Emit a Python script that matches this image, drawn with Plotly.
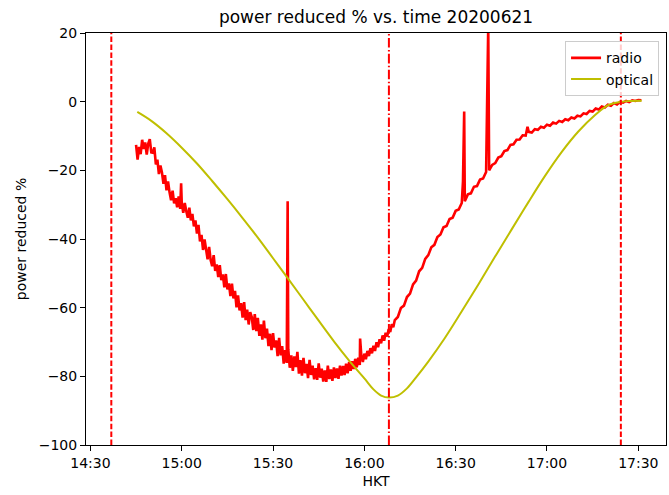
import pandas as pd
import plotly.graph_objects as go

DAY = "2020-06-21 14:30"

# radio, first part: two samples per minute from 14:45 to 16:09:30 (noisy)
radio_a_start_min = 15
radio_a_step_min = 0.5
radio_a_values = [
    -12.6, -16.9, -13.2, -15.3, -11.1, -13.8, -11.9, -15.4, -12.2, -10.9,
    -14.8, -14.9, -13.3, -18.3, -16.9, -21.1, -18.6, -20.6, -23.9, -21.4,
    -25.8, -23.2, -26.4, -28.7, -25.9, -29.6, -28.1, -30.8, -27.6, -31.2,
    -29.4, -32.4, -29.5, -31.9, -33.8, -30.9, -34.6, -32.7, -36.3, -34.6,
    -38.4, -35.9, -40.7, -38.8, -43.2, -40.1, -42.6, -45.9, -42.3, -46.1,
    -47.9, -44.7, -49.3, -47.4, -51.1, -47.6, -52.0, -50.3, -54.1, -50.2,
    -54.7, -52.9, -56.6, -53.0, -57.3, -55.1, -59.9, -56.4, -60.8, -58.7,
    -62.9, -58.4, -63.6, -60.6, -64.9, -61.3, -62.7, -66.5, -61.9, -66.8,
    -63.0, -68.2, -64.9, -69.3, -63.8, -68.9, -66.1, -71.2, -67.6, -72.4,
    -67.4, -71.6, -69.5, -74.1, -68.8, -73.9, -71.2, -76.3, -72.4, -76.1,
    -72.1, -77.5, -73.9, -78.4, -74.2, -77.3, -72.9, -79.2, -75.3, -79.8,
    -74.6, -79.1, -76.4, -80.5, -75.2, -79.6, -76.9, -80.9, -77.6, -81.0,
    -76.2, -80.4, -77.8, -81.5, -78.3, -81.6, -76.9, -80.8, -78.0, -81.3,
    -77.4, -80.5, -77.7, -80.7, -76.9, -79.8, -77.0, -79.6, -76.3, -79.1,
    -75.8, -78.4, -75.6, -77.9, -74.9, -77.4, -74.6, -76.7, -73.9, -75.8,
    -73.4, -75.0, -72.6, -74.1, -71.8, -73.3, -71.1, -72.6, -70.1, -71.5,
    -69.2, -70.4, -68.1, -69.6, -67.3, -68.4, -66.2, -67.1, -64.8, -65.7,
]

# radio, second part: one sample per minute from 16:10 to 17:31
radio_b_start_min = 100
radio_b_step_min = 1
radio_b_values = [
    -63.6, -62.7, -60.1, -59.4, -56.9, -55.9, -53.2, -52.1, -49.4, -48.4,
    -45.8, -44.7, -42.4, -41.7, -39.4, -38.7, -36.6, -36.2, -34.2, -33.8,
    -31.8, -31.4, -29.5, -29.0, -27.0, -26.7, -24.8, -24.6, -22.7, -22.4,
    -20.5, -20.0, -18.4, -17.9, -16.3, -15.9, -14.4, -14.1, -12.6, -12.4,
    -11.1, -11.0, -9.8, -9.9, -8.8, -9.0, -8.0, -8.2, -7.3, -7.6,
    -6.7, -7.0, -6.1, -6.4, -5.6, -5.9, -5.1, -5.4, -4.6, -4.9,
    -4.1, -4.3, -3.4, -3.6, -2.7, -2.9, -2.0, -2.3, -1.4, -1.7,
    -0.9, -1.2, -0.4, -0.8, -0.1, -0.3, 0.2, -0.1, 0.4, 0.2,
    0.5, 0.4,
]

# short interference spikes in the radio record
spike_minutes = [29.8, 64.8, 88.6, 122.4, 122.8, 130.7, 143.6]
spike_values = [-23.8, -29.0, -69.0, -23.3, -2.9, 22.0, -7.3]

# optical obscuration curve
optical_minutes = [15.4, 20, 25, 30, 35, 40, 45, 50, 55, 60, 65, 70, 75, 80, 85,
                   90, 93, 95.5, 98.1, 101, 104, 107, 111, 116.4, 121.9,
                   127.4, 132.9, 138.4, 143.8, 149.3, 154.8, 160.3, 165.8,
                   170.1, 174.5, 181.1]
optical_values = [-3.0, -5.6, -9.2, -13.4, -18.0, -23.1, -28.4, -33.9, -39.6,
                  -45.6, -51.6, -57.7, -63.8, -69.8, -75.4, -80.6, -83.8, -85.6,
                  -86.2, -85.6, -83.5, -80.3, -75.7, -68.9, -61.2, -53.3, -45.2,
                  -37.2, -29.4, -21.7, -14.7, -8.7, -3.9, -1.0, 0.0, 0.3]

# eclipse contacts: first contact, maximum, last contact
contact_times = ["2020-06-21 14:36:52", "2020-06-21 16:08:04", "2020-06-21 17:24:16"]
contact_dash = ["5.5px,2.4px", "9.6px,2.4px,1.5px,2.4px", "5.5px,2.4px"]

y_ticks = [-100, -80, -60, -40, -20, 0, 20]


def to_time(minutes):
    return pd.Timestamp(DAY) + pd.to_timedelta(pd.Series(minutes, dtype=float), unit="m")


radio_a_minutes = [radio_a_start_min + i * radio_a_step_min for i in range(len(radio_a_values))]
radio_b_minutes = [radio_b_start_min + i * radio_b_step_min for i in range(len(radio_b_values))]
radio = pd.DataFrame({
    "m": radio_a_minutes + radio_b_minutes + spike_minutes,
    "v": radio_a_values + radio_b_values + spike_values,
}).sort_values("m")

fig = go.Figure()
fig.add_trace(go.Scatter(
    x=to_time(radio["m"].tolist()), y=radio["v"], mode="lines", name="radio",
    line=dict(color="#ff0000", width=2.6),
))
fig.add_trace(go.Scatter(
    x=to_time(optical_minutes), y=optical_values, mode="lines", name="optical",
    line=dict(color="#bfbf00", width=2, shape="spline", smoothing=1),
))

for t, d in zip(contact_times, contact_dash):
    fig.add_shape(type="line", xref="x", yref="paper", x0=t, x1=t, y0=0, y1=1,
                  line=dict(color="#ff0000", width=2, dash=d), layer="above")

font = "DejaVu Sans, sans-serif"
fig.update_layout(
    width=669, height=495,
    margin=dict(l=86, r=3, t=33, b=50),
    paper_bgcolor="white", plot_bgcolor="white",
    font=dict(family=font, size=14, color="black"),
    title=dict(text="power reduced % vs. time 20200621", x=0.5, xref="paper",
               xanchor="center", y=0.965, yanchor="middle",
               font=dict(size=17, family=font)),
    showlegend=True,
    legend=dict(x=0.988, xanchor="right", y=0.98, yanchor="top",
                bgcolor="rgba(255,255,255,0.8)", bordercolor="#cccccc",
                borderwidth=1, font=dict(size=14), itemwidth=30,
                tracegroupgap=2),
)
fig.update_xaxes(
    type="date",
    range=["2020-06-21 14:28:33", "2020-06-21 17:39:06"],
    tick0="2020-06-21 14:30", dtick=30 * 60 * 1000, tickformat="%H:%M",
    ticks="outside", ticklen=5, tickwidth=1, tickcolor="black",
    showline=True, linecolor="black", linewidth=1, mirror=True,
    showgrid=False, zeroline=False,
    title=dict(text="HKT", font=dict(size=14), standoff=6),
)
fig.update_yaxes(
    range=[-100, 20], tickvals=y_ticks,
    ticks="outside", ticklen=5, tickwidth=1, tickcolor="black",
    showline=True, linecolor="black", linewidth=1, mirror=True,
    showgrid=False, zeroline=False,
    title=dict(text="power reduced %", font=dict(size=14), standoff=8),
)

fig.write_html("out.html")
